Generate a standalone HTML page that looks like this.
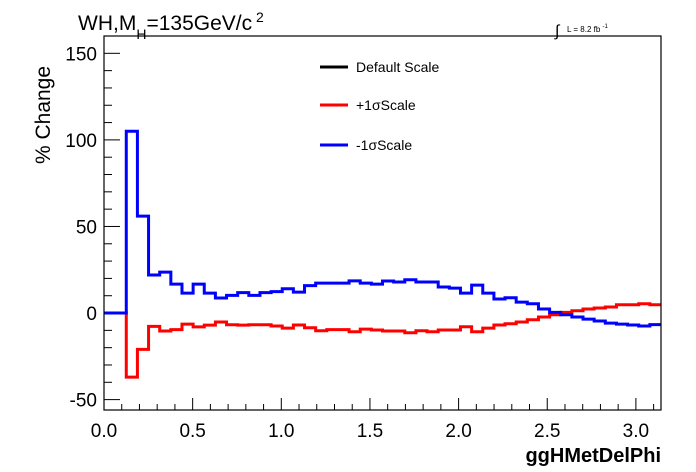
<!DOCTYPE html>
<html><head><meta charset="utf-8"><style>
body{margin:0;background:#fff;}
svg{display:block;font-family:"Liberation Sans",sans-serif;}
</style></head><body>
<svg id="chart" width="696" height="472" viewBox="0 0 696 472" xmlns="http://www.w3.org/2000/svg">
<rect x="0" y="0" width="696" height="472" fill="#fff"/>
<text x="78" y="30" font-size="21">WH,M<tspan font-size="14" dy="9">H</tspan><tspan dy="-9">=135GeV/c</tspan><tspan font-size="14" dy="-8"> 2</tspan></text>
<text x="555" y="36" font-size="16">∫</text>
<text x="567" y="32" font-size="8">L = 8.2 fb <tspan font-size="6" dy="-4">-1</tspan></text>
<g id="axes"></g>
<g id="series"></g>
<rect x="104" y="36" width="557" height="374" fill="none" stroke="#000" stroke-width="1.2"/>
<g>
<line x1="320" y1="67" x2="348" y2="67" stroke="#000" stroke-width="3"/>
<text x="356" y="72" font-size="14">Default Scale</text>
<line x1="320" y1="105" x2="348" y2="105" stroke="#f00" stroke-width="3"/>
<text x="356" y="110" font-size="14">+1σScale</text>
<line x1="320" y1="145" x2="348" y2="145" stroke="#00f" stroke-width="3"/>
<text x="356" y="150" font-size="14">-1σScale</text>
</g>
<text transform="translate(50,115) rotate(-90)" text-anchor="middle" font-size="21">% Change</text>
<text x="661" y="462" text-anchor="end" font-size="20" font-weight="bold">ggHMetDelPhi</text>
</svg>
<script>
const nBins = 50;
const xMin = 0, xMax = Math.PI;
const yMin = -56, yMax = 160;
const xTicks = [0, 0.5, 1.0, 1.5, 2.0, 2.5, 3.0];
const xTickLabels = ["0.0","0.5","1.0","1.5","2.0","2.5","3.0"];
const yTicks = [-50, 0, 50, 100, 150];
const yTickLabels = ["-50","0","50","100","150"];
const defaultValues = new Array(50).fill(0);
const plusValues = [0,0,-37,-21,-7.7,-10.4,-9.6,-6.4,-8,-7,-5.2,-6.8,-7,-6.8,-6.8,-7.5,-8.7,-6.9,-8.5,-10.2,-9.6,-9.6,-10.8,-9.3,-9.8,-10.4,-10.4,-11.4,-10.2,-10.8,-9.8,-9.8,-7.9,-10.8,-8.7,-6.9,-6.2,-5.2,-3.9,-2.3,-1,0.4,1.3,2.3,2.9,3.5,4.8,4.8,5.4,4.8];
const minusValues = [0,0,105,56,22,23.6,16.7,11.5,16.7,11.5,8.7,10.2,11.8,10.2,11.8,12.4,14,12.1,15.8,17.3,17.3,17.3,18.6,17.3,16.7,18.5,17.9,19.2,17.9,17.9,15,14.4,11.5,16.1,11.5,8.1,8.8,6.3,5.4,2.3,0.4,-1,-2.3,-3.5,-4.6,-5.8,-6.4,-6.9,-7.5,-6.7];

const L=104,R=661,T=36,B=410;
const sx = v => L + (v - xMin) / (xMax - xMin) * (R - L);
const sy = v => B - (v - yMin) / (yMax - yMin) * (B - T);
const NS = "http://www.w3.org/2000/svg";
const axes = document.getElementById('axes');
const series = document.getElementById('series');
function mk(tag, attrs, parent){const e=document.createElementNS(NS,tag);for(const k in attrs)e.setAttribute(k,attrs[k]);parent.appendChild(e);return e;}

for (let v = -50; v <= 150; v += 10) {
  const major = v % 50 === 0;
  const t = mk('line',{x1:L,x2:L+(major?16:8),y1:sy(v),y2:sy(v),stroke:'#000','stroke-width':1},axes);
  
  
}
yTicks.forEach((v,i)=>{
  const t = mk('text',{x:97,y:sy(v)+7,'text-anchor':'end','font-size':19},axes);
  t.textContent = yTickLabels[i];
  
  
});
for (let i = 0; i <= 31; i++) {
  const v = i / 10;
  const major = i % 5 === 0;
  const t = mk('line',{x1:sx(v),x2:sx(v),y1:B,y2:B-(major?12:6),stroke:'#000','stroke-width':1},axes);
  
  
}
xTicks.forEach((v,i)=>{
  const t = mk('text',{x:sx(v),y:437,'text-anchor':'middle','font-size':19},axes);
  t.textContent = xTickLabels[i];
  
  
});
function stepPath(vals){
  const w = (xMax - xMin) / nBins;
  let d = '';
  vals.forEach((v,i)=>{
    const x0 = sx(xMin + i*w), x1 = sx(xMin + (i+1)*w), y = sy(v);
    d += (i===0 ? 'M' : 'L') + x0.toFixed(2) + ',' + y.toFixed(2) + 'L' + x1.toFixed(2) + ',' + y.toFixed(2);
  });
  return d;
}
const p1 = mk('path',{d:stepPath(plusValues),fill:'none',stroke:'#f00','stroke-width':3},series);


const p2 = mk('path',{d:stepPath(minusValues),fill:'none',stroke:'#00f','stroke-width':3},series);


</script>
</body></html>
